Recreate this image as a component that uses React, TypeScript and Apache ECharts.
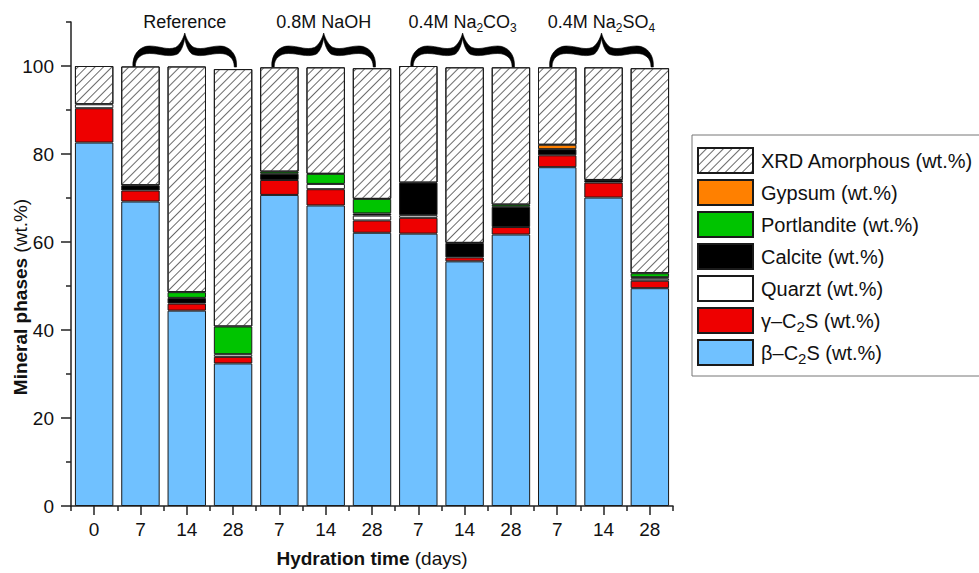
import React, { useEffect, useRef } from 'react';
import * as echarts from 'echarts';

// ---------- data ----------
const categories = ['0', '7', '14', '28', '7', '14', '28', '7', '14', '28', '7', '14', '28'];

const betaC2S = [82.6, 69.2, 44.4, 32.4, 70.7, 68.3, 62.1, 61.9, 55.6, 61.7, 77.0, 70.1, 49.5];
const gammaC2S = [7.8, 2.5, 1.6, 1.5, 3.4, 3.7, 2.8, 3.6, 0.9, 1.7, 2.7, 3.4, 1.7];
const quarzt = [0.9, 0, 0, 0.6, 0, 1.2, 1.1, 0.6, 0, 0, 0, 0, 0.5];
const calcite = [0, 1.2, 1.3, 0, 1.4, 0, 0.5, 7.4, 3.3, 4.6, 1.4, 0.6, 0.3];
const portlandite = [0, 0, 1.3, 6.3, 0.5, 2.3, 3.3, 0, 0, 0.5, 0, 0, 0.9];
const gypsum = [0, 0, 0, 0, 0, 0, 0, 0, 0, 0, 1.0, 0, 0];
const xrdAmorphous = [8.7, 27.0, 51.3, 58.5, 23.7, 24.2, 29.7, 26.5, 39.9, 31.2, 17.6, 25.6, 46.6];

const yMajorTicks = [0, 20, 40, 60, 80, 100];
const yMinorTicks = [10, 30, 50, 70, 90, 110];

// group annotations: label (rich text) and first/middle/last bar index
const groupLabels = [
  '{t|Reference}',
  '{t|0.8M NaOH}',
  '{t|0.4M Na}{s|2}{t|CO}{s|3}',
  '{t|0.4M Na}{s|2}{t|SO}{s|4}',
];
const groupBars = [
  [1, 2, 3],
  [4, 5, 6],
  [7, 8, 9],
  [10, 11, 12],
];

const legendOrder = [
  'XRD Amorphous (wt.%)',
  'Gypsum (wt.%)',
  'Portlandite (wt.%)',
  'Calcite (wt.%)',
  'Quarzt (wt.%)',
  'γ–C2S (wt.%)',
  'β–C2S (wt.%)',
];

const FONT = '"Liberation Sans", Arial, Helvetica, sans-serif';

// calligraphic curly brace in a 100 x 34 box, tip at top centre
const BRACE_D =
  'M0,34 C-1,21 7,13 16,13 C26,13 33,17.5 41,14.5 C45,12.5 48.5,6 50,0 ' +
  'C51.5,6 55,12.5 59,14.5 C67,17.5 74,13 84,13 C93,13 101,21 100,34 ' +
  'L97.8,34 C97.8,25 92,20.5 84,20.5 C74,20.5 67,24.5 58,21.5 C54,20 51,12 50,5 ' +
  'C49,12 46,20 42,21.5 C33,24.5 26,20.5 16,20.5 C8,20.5 2.2,25 2.2,34 Z';

let braceRegistered = false;

const legendRich = {
  t: { fontSize: 20, fontFamily: FONT, color: '#111', lineHeight: 26, verticalAlign: 'middle' },
  s: { fontSize: 15, fontFamily: FONT, color: '#111', lineHeight: 14, verticalAlign: 'bottom' },
};

export default function App() {
  const ref = useRef<HTMLDivElement>(null);

  useEffect(() => {
    if (!ref.current) return;
    if (!braceRegistered) {
      echarts.graphic.registerShape('brace', echarts.graphic.extendPath(BRACE_D, {}));
      braceRegistered = true;
    }
    const chart = echarts.init(ref.current, null, { renderer: 'svg' });

    const toData = (arr: number[]) => arr.map((v) => (v === 0 ? '-' : v));
    const mk = (name: string, data: number[], color: string, extra: any = {}) => ({
      name,
      type: 'bar',
      stack: 'total',
      data: toData(data),
      barCategoryGap: '17%',
      xAxisIndex: 0,
      yAxisIndex: 0,
      itemStyle: { color, borderColor: '#1a1a1a', borderWidth: 1, ...extra },
      emphasis: { disabled: true },
    });

    const series = [
      mk('β–C2S (wt.%)', betaC2S, '#70C1FF'),
      mk('γ–C2S (wt.%)', gammaC2S, '#EE0000'),
      mk('Quarzt (wt.%)', quarzt, '#FFFFFF'),
      mk('Calcite (wt.%)', calcite, '#000000'),
      mk('Portlandite (wt.%)', portlandite, '#00C400'),
      mk('Gypsum (wt.%)', gypsum, '#FF8000'),
      mk('XRD Amorphous (wt.%)', xrdAmorphous, '#FFFFFF', {
        decal: {
          symbol: 'rect',
          symbolSize: 1,
          dashArrayX: [1, 0],
          dashArrayY: [1, 4.5],
          rotation: -Math.PI / 4,
          color: '#6a6a6a',
        },
      }),
    ];

    const axisLineStyle = { color: '#222', width: 1.5 };

    chart.setOption({
      animation: false,
      grid: { left: 71, right: 306, top: 22, bottom: 66, containLabel: false },
      legend: {
        orient: 'vertical',
        left: 692,
        top: 135,
        data: legendOrder,
        icon: 'rect',
        itemWidth: 55,
        itemHeight: 25,
        itemGap: 5,
        padding: [12, 40, 10, 5],
        borderColor: '#777',
        borderWidth: 1,
        selectedMode: false,
        formatter: (name: string) => {
          if (name.startsWith('γ')) return '{t|γ–C}{s|2}{t|S (wt.%)}';
          if (name.startsWith('β')) return '{t|β–C}{s|2}{t|S (wt.%)}';
          return '{t|' + name + '}';
        },
        textStyle: { fontSize: 20, fontFamily: FONT, color: '#111', padding: [0, 0, 0, 3], rich: legendRich },
      },
      xAxis: [
        {
          type: 'category',
          data: categories,
          position: 'bottom',
          axisLine: { show: true, lineStyle: axisLineStyle },
          axisTick: { show: true, alignWithLabel: true, length: 9, lineStyle: axisLineStyle },
          axisLabel: { fontSize: 19, fontFamily: FONT, color: '#111', margin: 14 },
          name: '{b|Hydration time} {n|(days)}',
          nameLocation: 'middle',
          nameGap: 43,
          nameTextStyle: {
            fontSize: 19,
            fontFamily: FONT,
            color: '#111',
            rich: {
              b: { fontSize: 19, fontFamily: FONT, fontWeight: 'bold', color: '#111' },
              n: { fontSize: 19, fontFamily: FONT, color: '#111' },
            },
          },
        },
        {
          type: 'category',
          data: categories,
          position: 'bottom',
          axisLine: { show: false },
          axisTick: { show: true, alignWithLabel: false, length: 5, lineStyle: axisLineStyle },
          axisLabel: { show: false },
        },
      ],
      yAxis: [
        {
          type: 'value',
          min: 0,
          max: 110,
          interval: 20,
          position: 'left',
          axisLine: { show: true, lineStyle: axisLineStyle },
          axisTick: { show: true, length: 10, lineStyle: axisLineStyle, customValues: yMajorTicks },
          axisLabel: { fontSize: 19, fontFamily: FONT, color: '#111', margin: 17, customValues: yMajorTicks },
          splitLine: { show: false },
        },
        {
          type: 'value',
          min: 0,
          max: 110,
          interval: 10,
          position: 'left',
          axisLine: { show: false },
          axisTick: { show: true, length: 5, lineStyle: axisLineStyle, customValues: yMinorTicks },
          axisLabel: { show: false },
          splitLine: { show: false },
        },
      ],
      series,
    });

    const y100 = chart.convertToPixel({ yAxisIndex: 0 }, 100) as number;
    const graphics: any[] = [];
    groupBars.forEach((bars, gi) => {
      const xa = chart.convertToPixel({ xAxisIndex: 0 }, bars[0]) as number;
      const xb = chart.convertToPixel({ xAxisIndex: 0 }, bars[2]) as number;
      const left = xa - 7.5;
      const right = xb + 3.5;
      const mid = (left + right) / 2;
      graphics.push({
        type: 'brace',
        x: left,
        y: y100 - 33,
        scaleX: (right - left) / 100,
        scaleY: 1,
        silent: true,
        style: { fill: '#000', stroke: '#000', lineWidth: 0.6 },
      });
      graphics.push({
        type: 'text',
        x: mid,
        y: y100 - 44,
        silent: true,
        style: {
          text: groupLabels[gi],
          align: 'center',
          verticalAlign: 'middle',
          textAlign: 'center',
          textVerticalAlign: 'middle',
          fontSize: 18,
          fontFamily: FONT,
          fill: '#111',
          rich: {
            t: { fontSize: 18, fontFamily: FONT, fill: '#111', color: '#111', lineHeight: 24, verticalAlign: 'middle' },
            s: { fontSize: 12, fontFamily: FONT, fill: '#111', color: '#111', lineHeight: 12, verticalAlign: 'bottom' },
          },
        },
      });
    });
    graphics.push({
      type: 'text',
      x: 20,
      y: 297,
      rotation: Math.PI / 2,
      silent: true,
      style: {
        text: '{b|Mineral phases} {n|(wt.%)}',
        align: 'center',
        verticalAlign: 'middle',
        textAlign: 'center',
        textVerticalAlign: 'middle',
        fontSize: 19,
        fontFamily: FONT,
        fill: '#111',
        rich: {
          b: { fontSize: 19, fontFamily: FONT, fontWeight: 'bold', fill: '#111', color: '#111' },
          n: { fontSize: 19, fontFamily: FONT, fill: '#111', color: '#111' },
        },
      },
    });
    chart.setOption({ graphic: graphics });

    return () => {
      chart.dispose();
    };
  }, []);

  return <div ref={ref} style={{ position: 'absolute', left: 0, top: 0, width: 979, height: 573 }} />;
}
